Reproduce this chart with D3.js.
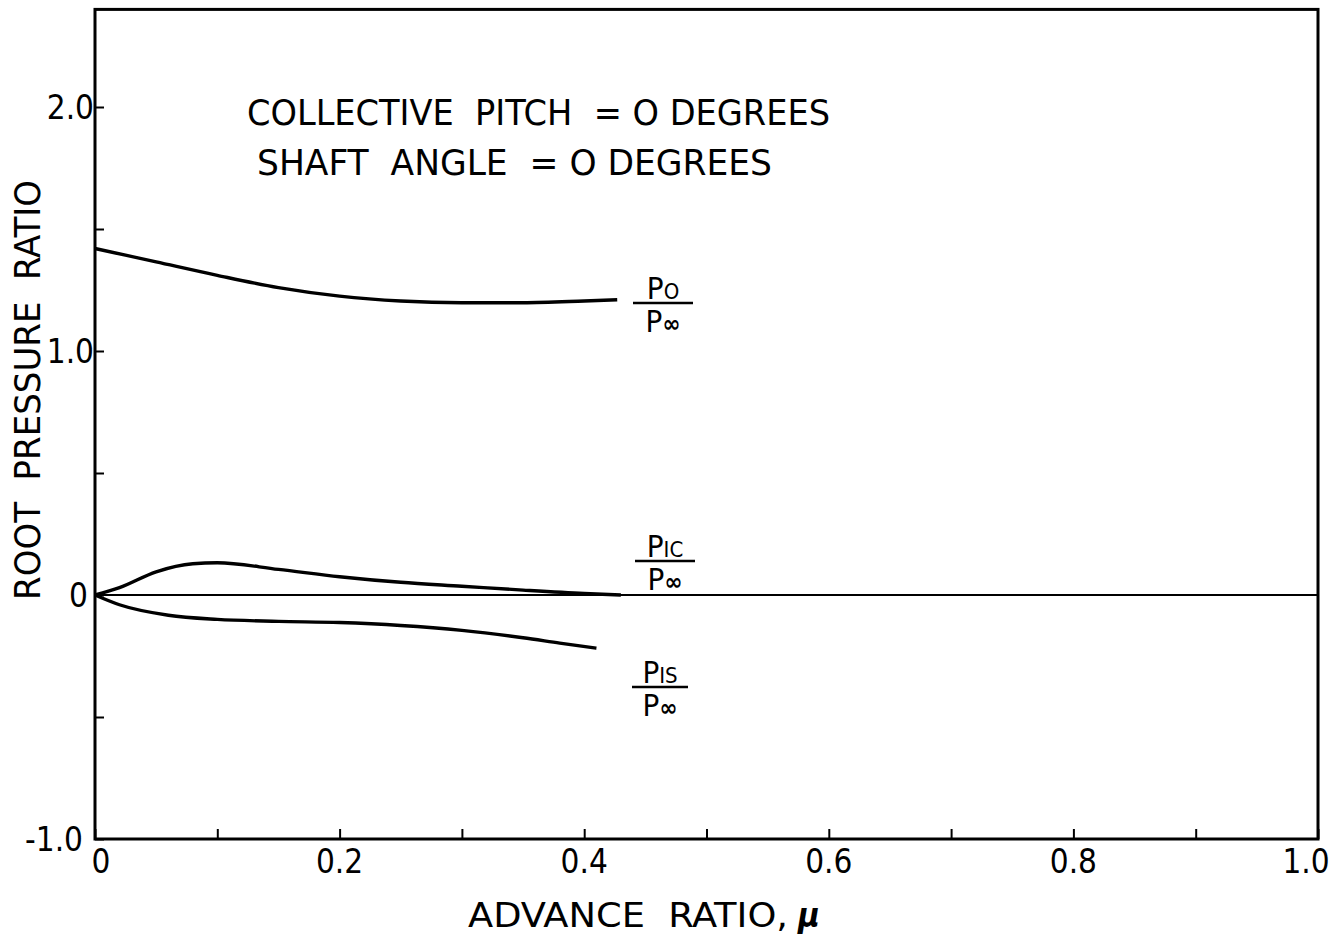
<!DOCTYPE html>
<html>
<head>
<meta charset="utf-8">
<script src="https://cdn.jsdelivr.net/npm/d3@7/dist/d3.min.js"></script>
<style>
  html, body { margin: 0; padding: 0; background: #fff; }
  svg { display: block; }
  text { font-family: "Liberation Sans Narrow", "DejaVu Sans Condensed", "Liberation Sans", sans-serif; fill: #000; }
</style>
</head>
<body>
<svg id="chart" width="1342" height="938"></svg>
<script>
// ---- data ----
const muP0   = [0, 0.05, 0.10, 0.15, 0.20, 0.25, 0.30, 0.35, 0.40, 0.427];
const valP0  = [1.42, 1.365, 1.31, 1.26, 1.225, 1.205, 1.198, 1.198, 1.205, 1.21];

const muP1c  = [0, 0.02, 0.05, 0.08, 0.10, 0.15, 0.20, 0.25, 0.30, 0.35, 0.40, 0.43];
const valP1c = [0, 0.03, 0.095, 0.128, 0.132, 0.105, 0.075, 0.052, 0.036, 0.02, 0.006, 0];

const muP1s  = [0, 0.02, 0.06, 0.10, 0.15, 0.20, 0.25, 0.30, 0.35, 0.38, 0.41];
const valP1s = [0, -0.04, -0.083, -0.10, -0.108, -0.113, -0.125, -0.145, -0.175, -0.197, -0.218];

const xTickValues = [0, 0.1, 0.2, 0.3, 0.4, 0.5, 0.6, 0.7, 0.8, 0.9, 1.0];
const xTickLabels = ["0", "0.2", "0.4", "0.6", "0.8", "1.0"];
const xLabelValues = [0, 0.2, 0.4, 0.6, 0.8, 1.0];
const yTickValues = [-1.0, -0.5, 0, 0.5, 1.0, 1.5, 2.0];
const yLabelValues = [-1.0, 0, 1.0, 2.0];
const yTickLabels = ["-1.0", "0", "1.0", "2.0"];

// ---- layout ----
const svg = d3.select("#chart");
const x = d3.scaleLinear().domain([0, 1]).range([95, 1318]);
const y = d3.scaleLinear().domain([-1, 2.4]).range([839, 9.4]);

svg.append("rect").attr("width", 1342).attr("height", 938).attr("fill", "#fff");

// zero line
svg.append("line")
  .attr("x1", x(0)).attr("x2", x(1))
  .attr("y1", y(0)).attr("y2", y(0))
  .attr("stroke", "#000").attr("stroke-width", 2.2);

// ticks (inward) via d3 axes
const xAxis = d3.axisBottom(x).tickValues(xTickValues).tickSize(-10).tickFormat("");
svg.append("g").attr("transform", `translate(0,${y(-1)})`).call(xAxis)
  .call(g => g.select(".domain").remove())
  .call(g => g.selectAll(".tick line").attr("stroke", "#000").attr("stroke-width", 2));

const yAxis = d3.axisLeft(y).tickValues(yTickValues).tickSize(-9).tickFormat("");
svg.append("g").attr("transform", `translate(${x(0)},0)`).call(yAxis)
  .call(g => g.select(".domain").remove())
  .call(g => g.selectAll(".tick line").attr("stroke", "#000").attr("stroke-width", 2));

// frame
svg.append("rect")
  .attr("x", x(0)).attr("y", y(2.4))
  .attr("width", x(1) - x(0)).attr("height", y(-1) - y(2.4))
  .attr("fill", "none").attr("stroke", "#000").attr("stroke-width", 3);

// tick labels
svg.append("g").selectAll("text").data(xLabelValues).join("text")
  .attr("x", d => x(d) + (d === 0 ? 6 : (d === 1 ? -12 : 0)))
  .attr("y", 873)
  .attr("text-anchor", "middle")
  .attr("font-size", 33)
  .text((d, i) => xTickLabels[i]);

svg.append("g").selectAll("text").data(yLabelValues).join("text")
  .attr("x", d => x(0) - 1 + (d === -1 ? -11 : 0) + (d === 0 ? -6 : 0))
  .attr("y", d => y(d) + 12)
  .attr("text-anchor", "end")
  .attr("font-size", 33)
  .text((d, i) => yTickLabels[i]);

// curves
const line = d3.line().x(d => x(d[0])).y(d => y(d[1])).curve(d3.curveMonotoneX);
const series = [
  d3.zip(muP0, valP0),
  d3.zip(muP1c, valP1c),
  d3.zip(muP1s, valP1s)
];
svg.append("g").selectAll("path").data(series).join("path")
  .attr("d", line)
  .attr("fill", "none")
  .attr("stroke", "#000")
  .attr("stroke-width", 3.4)
  .attr("stroke-linejoin", "round");

// fraction labels
function fraction(cx, barY, sub, barW) {
  const g = svg.append("g");
  const num = g.append("text").attr("x", cx).attr("y", barY - 4)
    .attr("text-anchor", "middle").attr("font-size", 31);
  num.append("tspan").text("P");
  num.append("tspan").attr("font-size", 22).text(sub);
  g.append("line").attr("x1", cx - barW / 2).attr("x2", cx + barW / 2)
    .attr("y1", barY).attr("y2", barY).attr("stroke", "#000").attr("stroke-width", 2.5);
  const den = g.append("text").attr("x", cx).attr("y", barY + 29)
    .attr("text-anchor", "middle").attr("font-size", 31);
  den.append("tspan").text("P");
  den.append("tspan").attr("font-size", 24).attr("font-weight", "bold").text("\u221E");
}
fraction(663, 303, "O", 60);
fraction(665, 561, "IC", 60);
fraction(660, 687, "IS", 56);

// annotation text
svg.append("text").attr("x", 247).attr("y", 125)
  .attr("font-size", 36).attr("textLength", 583).attr("lengthAdjust", "spacingAndGlyphs")
  .attr("xml:space", "preserve")
  .text("COLLECTIVE  PITCH  = O DEGREES");
svg.append("text").attr("x", 257).attr("y", 175)
  .attr("font-size", 36).attr("textLength", 515).attr("lengthAdjust", "spacingAndGlyphs")
  .attr("xml:space", "preserve")
  .text("SHAFT  ANGLE  = O DEGREES");

// axis titles
const xt = svg.append("text").attr("x", 468).attr("y", 927)
  .attr("font-size", 33)
  .attr("xml:space", "preserve");
xt.append("tspan").attr("textLength", 320).attr("lengthAdjust", "spacingAndGlyphs").text("ADVANCE  RATIO,");
xt.append("tspan").attr("dx", 10).attr("font-weight", "bold").attr("font-style", "italic").text("\u03BC");

svg.append("text")
  .attr("transform", "translate(40,600) rotate(-90)")
  .attr("font-size", 36).attr("textLength", 420).attr("lengthAdjust", "spacingAndGlyphs")
  .attr("xml:space", "preserve")
  .text("ROOT  PRESSURE  RATIO");
</script>
</body>
</html>
